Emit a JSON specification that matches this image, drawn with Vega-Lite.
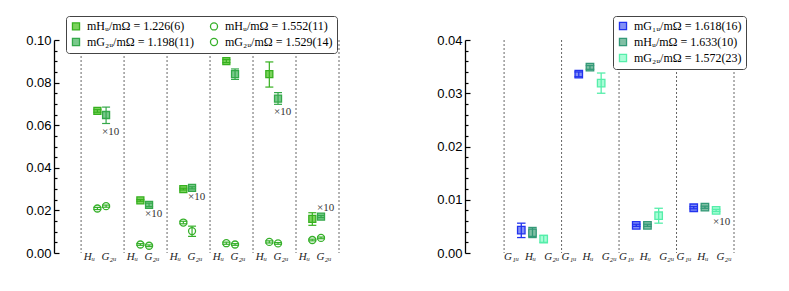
{
  "$schema": "https://vega.github.io/schema/vega-lite/v6.json",
  "background": "white",
  "padding": {"left": 25, "top": 15, "right": 5, "bottom": 5},
  "spacing": 96,
  "datasets": {
    "lcols": [{"col": 0}, {"col": 1}, {"col": 2}, {"col": 3}, {"col": 4}, {"col": 5}],
    "rcols": [{"col": 0}, {"col": 1}, {"col": 2}, {"col": 3}],
    "left": [
      {"col": 0, "irrep": "Hu", "series": "mHᵤ/mΩ = 1.226(6)", "v": 0.0667, "lo": 0.0661, "hi": 0.0673},
      {"col": 0, "irrep": "G2u", "series": "mG₂ᵤ/mΩ = 1.198(11)", "v": 0.0648, "lo": 0.0608, "hi": 0.0685},
      {"col": 0, "irrep": "Hu", "series": "mHᵤ/mΩ = 1.552(11)", "v": 0.0209, "lo": 0.0204, "hi": 0.0214},
      {"col": 0, "irrep": "G2u", "series": "mG₂ᵤ/mΩ = 1.529(14)", "v": 0.0220, "lo": 0.0215, "hi": 0.0225},
      {"col": 1, "irrep": "Hu", "series": "mHᵤ/mΩ = 1.226(6)", "v": 0.0247, "lo": 0.0243, "hi": 0.0251},
      {"col": 1, "irrep": "G2u", "series": "mG₂ᵤ/mΩ = 1.198(11)", "v": 0.0226, "lo": 0.0218, "hi": 0.0234},
      {"col": 1, "irrep": "Hu", "series": "mHᵤ/mΩ = 1.552(11)", "v": 0.0040, "lo": 0.0036, "hi": 0.0044},
      {"col": 1, "irrep": "G2u", "series": "mG₂ᵤ/mΩ = 1.529(14)", "v": 0.0034, "lo": 0.0030, "hi": 0.0038},
      {"col": 2, "irrep": "Hu", "series": "mHᵤ/mΩ = 1.226(6)", "v": 0.0300, "lo": 0.0296, "hi": 0.0304},
      {"col": 2, "irrep": "G2u", "series": "mG₂ᵤ/mΩ = 1.198(11)", "v": 0.0306, "lo": 0.0301, "hi": 0.0311},
      {"col": 2, "irrep": "Hu", "series": "mHᵤ/mΩ = 1.552(11)", "v": 0.0143, "lo": 0.0137, "hi": 0.0149},
      {"col": 2, "irrep": "G2u", "series": "mG₂ᵤ/mΩ = 1.529(14)", "v": 0.0103, "lo": 0.0078, "hi": 0.0126},
      {"col": 3, "irrep": "Hu", "series": "mHᵤ/mΩ = 1.226(6)", "v": 0.0901, "lo": 0.0894, "hi": 0.0908},
      {"col": 3, "irrep": "G2u", "series": "mG₂ᵤ/mΩ = 1.198(11)", "v": 0.0840, "lo": 0.0815, "hi": 0.0864},
      {"col": 3, "irrep": "Hu", "series": "mHᵤ/mΩ = 1.552(11)", "v": 0.0046, "lo": 0.0041, "hi": 0.0051},
      {"col": 3, "irrep": "G2u", "series": "mG₂ᵤ/mΩ = 1.529(14)", "v": 0.0040, "lo": 0.0036, "hi": 0.0044},
      {"col": 4, "irrep": "Hu", "series": "mHᵤ/mΩ = 1.226(6)", "v": 0.0840, "lo": 0.0779, "hi": 0.0897},
      {"col": 4, "irrep": "G2u", "series": "mG₂ᵤ/mΩ = 1.198(11)", "v": 0.0725, "lo": 0.0698, "hi": 0.0753},
      {"col": 4, "irrep": "Hu", "series": "mHᵤ/mΩ = 1.552(11)", "v": 0.0052, "lo": 0.0047, "hi": 0.0057},
      {"col": 4, "irrep": "G2u", "series": "mG₂ᵤ/mΩ = 1.529(14)", "v": 0.0045, "lo": 0.0041, "hi": 0.0049},
      {"col": 5, "irrep": "Hu", "series": "mHᵤ/mΩ = 1.226(6)", "v": 0.0160, "lo": 0.0130, "hi": 0.0189},
      {"col": 5, "irrep": "G2u", "series": "mG₂ᵤ/mΩ = 1.198(11)", "v": 0.0171, "lo": 0.0166, "hi": 0.0176},
      {"col": 5, "irrep": "Hu", "series": "mHᵤ/mΩ = 1.552(11)", "v": 0.0061, "lo": 0.0057, "hi": 0.0065},
      {"col": 5, "irrep": "G2u", "series": "mG₂ᵤ/mΩ = 1.529(14)", "v": 0.0071, "lo": 0.0067, "hi": 0.0075}
    ],
    "right": [
      {"col": 0, "irrep": "G1u", "series": "mG₁ᵤ/mΩ = 1.618(16)", "v": 0.0043, "lo": 0.0029, "hi": 0.0056},
      {"col": 0, "irrep": "Hu", "series": "mHᵤ/mΩ = 1.633(10)", "v": 0.0038, "lo": 0.0029, "hi": 0.0048},
      {"col": 0, "irrep": "G2u", "series": "mG₂ᵤ/mΩ = 1.572(23)", "v": 0.0026, "lo": 0.0020, "hi": 0.0033},
      {"col": 1, "irrep": "G1u", "series": "mG₁ᵤ/mΩ = 1.618(16)", "v": 0.0336, "lo": 0.0331, "hi": 0.0340},
      {"col": 1, "irrep": "Hu", "series": "mHᵤ/mΩ = 1.633(10)", "v": 0.0349, "lo": 0.0345, "hi": 0.0352},
      {"col": 1, "irrep": "G2u", "series": "mG₂ᵤ/mΩ = 1.572(23)", "v": 0.0319, "lo": 0.0300, "hi": 0.0338},
      {"col": 2, "irrep": "G1u", "series": "mG₁ᵤ/mΩ = 1.618(16)", "v": 0.0052, "lo": 0.0050, "hi": 0.0054},
      {"col": 2, "irrep": "Hu", "series": "mHᵤ/mΩ = 1.633(10)", "v": 0.0052, "lo": 0.0050, "hi": 0.0054},
      {"col": 2, "irrep": "G2u", "series": "mG₂ᵤ/mΩ = 1.572(23)", "v": 0.0070, "lo": 0.0056, "hi": 0.0084},
      {"col": 3, "irrep": "G1u", "series": "mG₁ᵤ/mΩ = 1.618(16)", "v": 0.0085, "lo": 0.0083, "hi": 0.0087},
      {"col": 3, "irrep": "Hu", "series": "mHᵤ/mΩ = 1.633(10)", "v": 0.0086, "lo": 0.0084, "hi": 0.0088},
      {"col": 3, "irrep": "G2u", "series": "mG₂ᵤ/mΩ = 1.572(23)", "v": 0.0080, "lo": 0.0078, "hi": 0.0082}
    ],
    "lann": [
      {"col": 0, "irrep": "G2u", "y": 0.0568, "t": "×10"},
      {"col": 1, "irrep": "G2u", "y": 0.0185, "t": "×10"},
      {"col": 2, "irrep": "G2u", "y": 0.0262, "t": "×10"},
      {"col": 4, "irrep": "G2u", "y": 0.0662, "t": "×10"},
      {"col": 5, "irrep": "G2u", "y": 0.0210, "t": "×10"}
    ],
    "rann": [
      {"col": 3, "irrep": "G2u", "y": 0.0059, "t": "×10"}
    ],
    "llab": [
      {"col": 0, "irrep": "Hu", "lab": "Hᵤ"}, {"col": 0, "irrep": "G2u", "lab": "G₂ᵤ"},
      {"col": 1, "irrep": "Hu", "lab": "Hᵤ"}, {"col": 1, "irrep": "G2u", "lab": "G₂ᵤ"},
      {"col": 2, "irrep": "Hu", "lab": "Hᵤ"}, {"col": 2, "irrep": "G2u", "lab": "G₂ᵤ"},
      {"col": 3, "irrep": "Hu", "lab": "Hᵤ"}, {"col": 3, "irrep": "G2u", "lab": "G₂ᵤ"},
      {"col": 4, "irrep": "Hu", "lab": "Hᵤ"}, {"col": 4, "irrep": "G2u", "lab": "G₂ᵤ"},
      {"col": 5, "irrep": "Hu", "lab": "Hᵤ"}, {"col": 5, "irrep": "G2u", "lab": "G₂ᵤ"}
    ],
    "rlab": [
      {"col": 0, "irrep": "G1u", "lab": "G₁ᵤ"}, {"col": 0, "irrep": "Hu", "lab": "Hᵤ"}, {"col": 0, "irrep": "G2u", "lab": "G₂ᵤ"},
      {"col": 1, "irrep": "G1u", "lab": "G₁ᵤ"}, {"col": 1, "irrep": "Hu", "lab": "Hᵤ"}, {"col": 1, "irrep": "G2u", "lab": "G₂ᵤ"},
      {"col": 2, "irrep": "G1u", "lab": "G₁ᵤ"}, {"col": 2, "irrep": "Hu", "lab": "Hᵤ"}, {"col": 2, "irrep": "G2u", "lab": "G₂ᵤ"},
      {"col": 3, "irrep": "G1u", "lab": "G₁ᵤ"}, {"col": 3, "irrep": "Hu", "lab": "Hᵤ"}, {"col": 3, "irrep": "G2u", "lab": "G₂ᵤ"}
    ]
  },
  "hconcat": [
    {
      "width": 285,
      "height": 213,
      "resolve": {"scale": {"y": "independent"}, "axis": {"y": "independent"}},
      "layer": [
        {
          "data": {"name": "lcols"},
          "mark": {"type": "rule", "strokeDash": [2, 2], "color": "#555", "strokeWidth": 0.9},
          "encoding": {
            "x": {"field": "col", "type": "ordinal", "bandPosition": 0, "axis": null,
                  "scale": {"type": "band", "domain": [0, 1, 2, 3, 4, 5], "paddingInner": 0, "paddingOuter": 0.315, "align": 1}}
          }
        },
        {
          "data": {"values": [{"col": 5}]},
          "mark": {"type": "rule", "strokeDash": [2, 2], "color": "#555", "strokeWidth": 0.9},
          "encoding": {
            "x": {"field": "col", "type": "ordinal", "bandPosition": 1, "axis": null}
          }
        },
        {
          "data": {"name": "left"},
          "mark": {"type": "point", "size": 49, "strokeWidth": 1.3, "opacity": 1, "filled": true},
          "encoding": {
            "x": {"field": "col", "type": "ordinal", "axis": null},
            "xOffset": {"field": "irrep", "type": "nominal", "scale": {"type": "point", "domain": ["Hu", "G2u"], "range": [16.3, 25], "padding": 0}},
            "y": {"field": "v", "type": "quantitative", "scale": {"domain": [0, 0.1], "nice": false, "zero": false},
                  "axis": {"orient": "left",
                           "values": [0, 0.005, 0.01, 0.015, 0.02, 0.025, 0.03, 0.035, 0.04, 0.045, 0.05, 0.055, 0.06, 0.065, 0.07, 0.075, 0.08, 0.085, 0.09, 0.095, 0.1],
                           "labelExpr": "abs(datum.value*50 - round(datum.value*50)) < 0.001 ? format(datum.value, '.2f') : ''",
                           "tickSize": {"condition": {"test": "abs(datum.value*50 - round(datum.value*50)) < 0.001", "value": -5}, "value": -3},
                           "domain": true, "ticks": true, "domainColor": "#000", "tickWidth": 1.2, "domainWidth": 1.3, "labelPadding": 8, "title": null}},
            "fill": {"field": "series", "type": "nominal",
                     "scale": {"domain": ["mHᵤ/mΩ = 1.226(6)", "mG₂ᵤ/mΩ = 1.198(11)", "mHᵤ/mΩ = 1.552(11)", "mG₂ᵤ/mΩ = 1.529(14)"], "range": ["#7bd35c", "#79c98b", "#ffffff", "#ffffff"]},
                     "legend": {"orient": "none", "legendX": 12, "legendY": -24, "columns": 2, "title": null, "columnPadding": 12}},
            "stroke": {"field": "series", "type": "nominal",
                       "scale": {"domain": ["mHᵤ/mΩ = 1.226(6)", "mG₂ᵤ/mΩ = 1.198(11)", "mHᵤ/mΩ = 1.552(11)", "mG₂ᵤ/mΩ = 1.529(14)"], "range": ["#36b01f", "#34a84a", "#36b02a", "#36b02a"]},
                       "legend": {"orient": "none", "legendX": 12, "legendY": -24, "columns": 2, "title": null, "columnPadding": 12}},
            "shape": {"field": "series", "type": "nominal",
                      "scale": {"domain": ["mHᵤ/mΩ = 1.226(6)", "mG₂ᵤ/mΩ = 1.198(11)", "mHᵤ/mΩ = 1.552(11)", "mG₂ᵤ/mΩ = 1.529(14)"], "range": ["square", "square", "circle", "circle"]},
                      "legend": {"orient": "none", "legendX": 12, "legendY": -24, "columns": 2, "title": null, "columnPadding": 12}}
          }
        },
        {
          "data": {"name": "left"},
          "mark": {"type": "rule", "strokeWidth": 1.2},
          "encoding": {
            "x": {"field": "col", "type": "ordinal", "axis": null},
            "xOffset": {"field": "irrep", "type": "nominal"},
            "y": {"field": "lo", "type": "quantitative", "axis": null, "scale": {"domain": [0, 0.1], "nice": false, "zero": false}},
            "y2": {"field": "hi"},
            "stroke": {"field": "series", "type": "nominal",
                       "scale": {"domain": ["mHᵤ/mΩ = 1.226(6)", "mG₂ᵤ/mΩ = 1.198(11)", "mHᵤ/mΩ = 1.552(11)", "mG₂ᵤ/mΩ = 1.529(14)"], "range": ["#36b01f", "#34a84a", "#36b02a", "#36b02a"]},
                       "legend": {"orient": "none", "legendX": 12, "legendY": -24, "columns": 2, "title": null, "columnPadding": 12}}
          }
        },
        {
          "data": {"name": "left"},
          "mark": {"type": "point", "shape": "M-1,0L1,0", "size": 64, "strokeWidth": 1.2, "filled": false, "opacity": 1},
          "encoding": {
            "x": {"field": "col", "type": "ordinal", "axis": null},
            "xOffset": {"field": "irrep", "type": "nominal"},
            "y": {"field": "lo", "type": "quantitative", "axis": null, "scale": {"domain": [0, 0.1], "nice": false, "zero": false}},
            "stroke": {"field": "series", "type": "nominal",
                       "scale": {"domain": ["mHᵤ/mΩ = 1.226(6)", "mG₂ᵤ/mΩ = 1.198(11)", "mHᵤ/mΩ = 1.552(11)", "mG₂ᵤ/mΩ = 1.529(14)"], "range": ["#36b01f", "#34a84a", "#36b02a", "#36b02a"]},
                       "legend": {"orient": "none", "legendX": 12, "legendY": -24, "columns": 2, "title": null, "columnPadding": 12}}
          }
        },
        {
          "data": {"name": "left"},
          "mark": {"type": "point", "shape": "M-1,0L1,0", "size": 64, "strokeWidth": 1.2, "filled": false, "opacity": 1},
          "encoding": {
            "x": {"field": "col", "type": "ordinal", "axis": null},
            "xOffset": {"field": "irrep", "type": "nominal"},
            "y": {"field": "hi", "type": "quantitative", "axis": null, "scale": {"domain": [0, 0.1], "nice": false, "zero": false}},
            "stroke": {"field": "series", "type": "nominal",
                       "scale": {"domain": ["mHᵤ/mΩ = 1.226(6)", "mG₂ᵤ/mΩ = 1.198(11)", "mHᵤ/mΩ = 1.552(11)", "mG₂ᵤ/mΩ = 1.529(14)"], "range": ["#36b01f", "#34a84a", "#36b02a", "#36b02a"]},
                       "legend": {"orient": "none", "legendX": 12, "legendY": -24, "columns": 2, "title": null, "columnPadding": 12}}
          }
        },
        {
          "data": {"name": "lann"},
          "mark": {"type": "text", "align": "left", "baseline": "middle", "dx": -4, "font": "Liberation Serif", "fontSize": 11, "color": "#333"},
          "encoding": {
            "x": {"field": "col", "type": "ordinal", "axis": null},
            "xOffset": {"field": "irrep", "type": "nominal"},
            "y": {"field": "y", "type": "quantitative", "axis": null, "scale": {"domain": [0, 0.1], "nice": false, "zero": false}},
            "text": {"field": "t"}
          }
        },
        {
          "data": {"name": "llab"},
          "transform": [{"filter": "datum.irrep === 'Hu'"}],
          "mark": {"type": "text", "align": "center", "baseline": "alphabetic", "dx": -8, "dy": 7, "font": "Liberation Serif", "fontStyle": "italic", "fontSize": 11, "color": "#222"},
          "encoding": {
            "x": {"field": "col", "type": "ordinal", "axis": null},
            "xOffset": {"field": "irrep", "type": "nominal"},
            "y": {"datum": 0, "axis": null, "scale": {"domain": [0, 0.1], "nice": false, "zero": false}},
            "text": {"field": "lab"}
          }
        },
        {
          "data": {"name": "llab"},
          "transform": [{"filter": "datum.irrep === 'G2u'"}],
          "mark": {"type": "text", "align": "center", "baseline": "alphabetic", "dx": 3, "dy": 7, "font": "Liberation Serif", "fontStyle": "italic", "fontSize": 11, "color": "#222"},
          "encoding": {
            "x": {"field": "col", "type": "ordinal", "axis": null},
            "xOffset": {"field": "irrep", "type": "nominal"},
            "y": {"datum": 0, "axis": null, "scale": {"domain": [0, 0.1], "nice": false, "zero": false}},
            "text": {"field": "lab"}
          }
        }
      ]
    },
    {
      "width": 269,
      "height": 213,
      "resolve": {"scale": {"y": "independent"}, "axis": {"y": "independent"}},
      "layer": [
        {
          "data": {"name": "rcols"},
          "mark": {"type": "rule", "strokeDash": [2, 2], "color": "#555", "strokeWidth": 0.9},
          "encoding": {
            "x": {"field": "col", "type": "ordinal", "bandPosition": 0, "axis": null,
                  "scale": {"type": "band", "domain": [0, 1, 2, 3], "paddingInner": 0, "paddingOuter": 0.34, "align": 1}}
          }
        },
        {
          "data": {"values": [{"col": 3}]},
          "mark": {"type": "rule", "strokeDash": [2, 2], "color": "#555", "strokeWidth": 0.9},
          "encoding": {
            "x": {"field": "col", "type": "ordinal", "bandPosition": 1, "axis": null}
          }
        },
        {
          "data": {"name": "right"},
          "mark": {"type": "point", "size": 56, "strokeWidth": 1.3, "opacity": 1, "filled": true},
          "encoding": {
            "x": {"field": "col", "type": "ordinal", "axis": null},
            "xOffset": {"field": "irrep", "type": "nominal", "scale": {"type": "point", "domain": ["G1u", "Hu", "G2u"], "range": [17.2, 39.6], "padding": 0}},
            "y": {"field": "v", "type": "quantitative", "scale": {"domain": [0, 0.04], "nice": false, "zero": false},
                  "axis": {"orient": "left",
                           "values": [0, 0.002, 0.004, 0.006, 0.008, 0.01, 0.012, 0.014, 0.016, 0.018, 0.02, 0.022, 0.024, 0.026, 0.028, 0.03, 0.032, 0.034, 0.036, 0.038, 0.04],
                           "labelExpr": "abs(datum.value*100 - round(datum.value*100)) < 0.001 ? format(datum.value, '.2f') : ''",
                           "tickSize": {"condition": {"test": "abs(datum.value*100 - round(datum.value*100)) < 0.001", "value": -5}, "value": -3},
                           "domain": true, "ticks": true, "domainColor": "#000", "tickWidth": 1.2, "domainWidth": 1.3, "labelPadding": 8, "title": null}},
            "fill": {"field": "series", "type": "nominal",
                     "scale": {"domain": ["mG₁ᵤ/mΩ = 1.618(16)", "mHᵤ/mΩ = 1.633(10)", "mG₂ᵤ/mΩ = 1.572(23)"], "range": ["#8290f6", "#80bfa4", "#a8fcd6"]},
                     "legend": {"orient": "none", "legendX": 148, "legendY": -24, "columns": 1, "title": null}},
            "stroke": {"field": "series", "type": "nominal",
                       "scale": {"domain": ["mG₁ᵤ/mΩ = 1.618(16)", "mHᵤ/mΩ = 1.633(10)", "mG₂ᵤ/mΩ = 1.572(23)"], "range": ["#2233ee", "#339977", "#55eeaa"]},
                       "legend": {"orient": "none", "legendX": 148, "legendY": -24, "columns": 1, "title": null}},
            "shape": {"field": "series", "type": "nominal",
                      "scale": {"domain": ["mG₁ᵤ/mΩ = 1.618(16)", "mHᵤ/mΩ = 1.633(10)", "mG₂ᵤ/mΩ = 1.572(23)"], "range": ["square", "square", "square"]},
                      "legend": {"orient": "none", "legendX": 148, "legendY": -24, "columns": 1, "title": null}}
          }
        },
        {
          "data": {"name": "right"},
          "mark": {"type": "rule", "strokeWidth": 1.3},
          "encoding": {
            "x": {"field": "col", "type": "ordinal", "axis": null},
            "xOffset": {"field": "irrep", "type": "nominal"},
            "y": {"field": "lo", "type": "quantitative", "axis": null, "scale": {"domain": [0, 0.04], "nice": false, "zero": false}},
            "y2": {"field": "hi"},
            "stroke": {"field": "series", "type": "nominal",
                       "scale": {"domain": ["mG₁ᵤ/mΩ = 1.618(16)", "mHᵤ/mΩ = 1.633(10)", "mG₂ᵤ/mΩ = 1.572(23)"], "range": ["#2233ee", "#339977", "#55eeaa"]},
                       "legend": {"orient": "none", "legendX": 148, "legendY": -24, "columns": 1, "title": null}}
          }
        },
        {
          "data": {"name": "right"},
          "mark": {"type": "point", "shape": "M-1,0L1,0", "size": 72, "strokeWidth": 1.3, "filled": false, "opacity": 1},
          "encoding": {
            "x": {"field": "col", "type": "ordinal", "axis": null},
            "xOffset": {"field": "irrep", "type": "nominal"},
            "y": {"field": "lo", "type": "quantitative", "axis": null, "scale": {"domain": [0, 0.04], "nice": false, "zero": false}},
            "stroke": {"field": "series", "type": "nominal",
                       "scale": {"domain": ["mG₁ᵤ/mΩ = 1.618(16)", "mHᵤ/mΩ = 1.633(10)", "mG₂ᵤ/mΩ = 1.572(23)"], "range": ["#2233ee", "#339977", "#55eeaa"]},
                       "legend": {"orient": "none", "legendX": 148, "legendY": -24, "columns": 1, "title": null}}
          }
        },
        {
          "data": {"name": "right"},
          "mark": {"type": "point", "shape": "M-1,0L1,0", "size": 72, "strokeWidth": 1.3, "filled": false, "opacity": 1},
          "encoding": {
            "x": {"field": "col", "type": "ordinal", "axis": null},
            "xOffset": {"field": "irrep", "type": "nominal"},
            "y": {"field": "hi", "type": "quantitative", "axis": null, "scale": {"domain": [0, 0.04], "nice": false, "zero": false}},
            "stroke": {"field": "series", "type": "nominal",
                       "scale": {"domain": ["mG₁ᵤ/mΩ = 1.618(16)", "mHᵤ/mΩ = 1.633(10)", "mG₂ᵤ/mΩ = 1.572(23)"], "range": ["#2233ee", "#339977", "#55eeaa"]},
                       "legend": {"orient": "none", "legendX": 148, "legendY": -24, "columns": 1, "title": null}}
          }
        },
        {
          "data": {"name": "rann"},
          "mark": {"type": "text", "align": "left", "baseline": "middle", "dx": -3, "font": "Liberation Serif", "fontSize": 11, "color": "#333"},
          "encoding": {
            "x": {"field": "col", "type": "ordinal", "axis": null},
            "xOffset": {"field": "irrep", "type": "nominal"},
            "y": {"field": "y", "type": "quantitative", "axis": null, "scale": {"domain": [0, 0.04], "nice": false, "zero": false}},
            "text": {"field": "t"}
          }
        },
        {
          "data": {"name": "rlab"},
          "transform": [{"filter": "datum.irrep === 'G1u'"}],
          "mark": {"type": "text", "align": "center", "baseline": "alphabetic", "dx": -9.7, "dy": 7, "font": "Liberation Serif", "fontStyle": "italic", "fontSize": 11, "color": "#222"},
          "encoding": {
            "x": {"field": "col", "type": "ordinal", "axis": null},
            "xOffset": {"field": "irrep", "type": "nominal"},
            "y": {"datum": 0, "axis": null, "scale": {"domain": [0, 0.04], "nice": false, "zero": false}},
            "text": {"field": "lab"}
          }
        },
        {
          "data": {"name": "rlab"},
          "transform": [{"filter": "datum.irrep === 'Hu'"}],
          "mark": {"type": "text", "align": "center", "baseline": "alphabetic", "dx": -2, "dy": 7, "font": "Liberation Serif", "fontStyle": "italic", "fontSize": 11, "color": "#222"},
          "encoding": {
            "x": {"field": "col", "type": "ordinal", "axis": null},
            "xOffset": {"field": "irrep", "type": "nominal"},
            "y": {"datum": 0, "axis": null, "scale": {"domain": [0, 0.04], "nice": false, "zero": false}},
            "text": {"field": "lab"}
          }
        },
        {
          "data": {"name": "rlab"},
          "transform": [{"filter": "datum.irrep === 'G2u'"}],
          "mark": {"type": "text", "align": "center", "baseline": "alphabetic", "dx": 8, "dy": 7, "font": "Liberation Serif", "fontStyle": "italic", "fontSize": 11, "color": "#222"},
          "encoding": {
            "x": {"field": "col", "type": "ordinal", "axis": null},
            "xOffset": {"field": "irrep", "type": "nominal"},
            "y": {"datum": 0, "axis": null, "scale": {"domain": [0, 0.04], "nice": false, "zero": false}},
            "text": {"field": "lab"}
          }
        }
      ]
    }
  ],
  "resolve": {
    "scale": {"x": "independent", "y": "independent", "xOffset": "independent", "fill": "independent", "stroke": "independent", "shape": "independent"},
    "legend": {"fill": "independent", "stroke": "independent", "shape": "independent"}
  },
  "config": {
    "view": {"stroke": null},
    "axis": {"grid": false, "domain": true, "domainColor": "#000", "tickColor": "#000", "labelColor": "#000", "labelFont": "Liberation Sans", "labelFontSize": 13},
    "legend": {
      "strokeColor": "#444", "cornerRadius": 3, "padding": 4, "fillColor": "white",
      "labelFont": "Liberation Serif", "labelFontSize": 12, "labelColor": "#000",
      "symbolSize": 50, "symbolStrokeWidth": 1.3, "rowPadding": 2, "labelOffset": 5, "labelLimit": 300
    }
  }
}
